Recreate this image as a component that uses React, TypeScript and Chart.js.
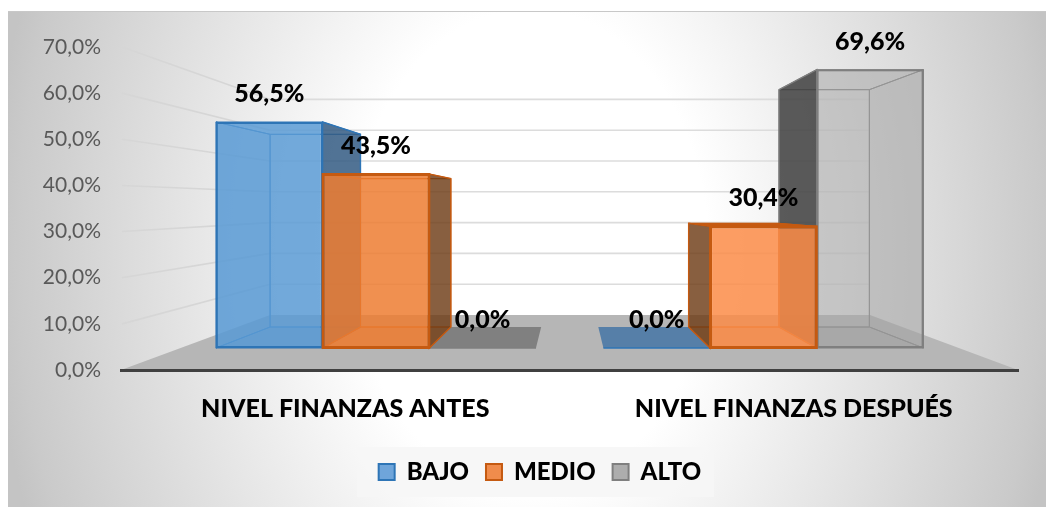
import React, { useEffect, useRef } from "react";
import { Chart, registerables } from "chart.js";

Chart.register(...registerables);

const categories = ["NIVEL FINANZAS ANTES", "NIVEL FINANZAS DESPUÉS"];
const bajoValues = [56.5, 0.0];
const medioValues = [43.5, 30.4];
const altoValues = [0.0, 69.6];
const yTicks = [0, 10, 20, 30, 40, 50, 60, 70];

const FONT = "Lato, Carlito, Calibri, sans-serif";

const fmt = (v: number) => v.toFixed(1).replace(".", ",") + "%";

// depth projection of the front plane onto the back plane
const VANISH_X = 570;
const DEPTH_X = 0.847;
const DEPTH_Y = 0.8525;
const BACK_BASE_SHIFT = 21;
// back wall
const WALL_BASE = 315;
const WALL_STEP = 3.08;
const WALL_LEFT = 270;
const WALL_RIGHT = 870;

const faces: Record<number, any> = {
  0: { line: "#2e75b6", outer: "rgba(52,92,132,0.86)", inner: "rgba(46,117,182,0.10)", flat: "#567fa8", floor: "rgba(46,117,182,0.18)" },
  1: { line: "#c55a11", outer: "rgba(110,60,22,0.82)", inner: "rgba(197,90,17,0.08)", flat: "#c55a11", floor: "rgba(197,90,17,0.18)" },
  2: { line: "#7f7f7f", outer: "rgba(62,62,62,0.85)", inner: "rgba(120,120,120,0.06)", flat: "#808080", floor: "rgba(90,90,90,0.12)" },
};
const faceOrder = [0, 2, 1];
const legendFill = ["#6fa5da", "#f08c4c", "#adadad"];

const poly = (ctx: CanvasRenderingContext2D, pts: number[][], fill?: string, stroke?: string, lw = 1) => {
  ctx.beginPath();
  pts.forEach((p, i) => (i ? ctx.lineTo(p[0], p[1]) : ctx.moveTo(p[0], p[1])));
  ctx.closePath();
  if (fill) {
    ctx.fillStyle = fill;
    ctx.fill();
  }
  if (stroke) {
    ctx.strokeStyle = stroke;
    ctx.lineWidth = lw;
    ctx.stroke();
  }
};

const scene = {
  id: "scene",
  afterLayout(chart: any) {
    chart.legend.left += 11;
    chart.legend.right += 11;
  },
  beforeDraw(chart: any) {
    const { ctx, width, height, chartArea, scales } = chart;
    ctx.save();
    const sy = 1.35;
    ctx.save();
    ctx.translate(530, 250);
    ctx.scale(1, sy);
    const g = ctx.createRadialGradient(0, 0, 0, 0, 0, 540);
    g.addColorStop(0, "#ffffff");
    g.addColorStop(0.33, "#ffffff");
    g.addColorStop(0.95, "#cacaca");
    g.addColorStop(1, "#c4c4c4");
    ctx.fillStyle = g;
    ctx.fillRect(8 - 530, (11 - 250) / sy, width - 8, (height - 11) / sy);
    ctx.restore();
    ctx.fillStyle = "#c8c8c8";
    ctx.fillRect(8, 11, width - 8, 1);
    ctx.fillStyle = "rgba(246,246,246,0.9)";
    ctx.fillRect(357, 447, 357, 50);

    const L = WALL_LEFT;
    const R = WALL_RIGHT;
    poly(ctx, [[chartArea.left, chartArea.bottom], [chartArea.right, chartArea.bottom], [R, WALL_BASE], [L, WALL_BASE]], "#b6b6b6");
    yTicks.forEach((t) => {
      if (t === 0) return;
      const gy = WALL_BASE - t * WALL_STEP;
      ctx.strokeStyle = "#dcdcdc";
      ctx.lineWidth = 1.6;
      ctx.beginPath();
      ctx.moveTo(L, gy);
      ctx.lineTo(R, gy);
      ctx.stroke();
      ctx.strokeStyle = "#d6d6d6";
      ctx.beginPath();
      ctx.moveTo(chartArea.left + 1, scales.y.getPixelForValue(t));
      ctx.lineTo(L, gy);
      ctx.stroke();
    });
    ctx.restore();
  },
  beforeDatasetsDraw(chart: any) {
    const { ctx, scales } = chart;
    ctx.save();
    const zero = scales.yb.getPixelForValue(0);
    const back = (x: number, y: number) => [
      VANISH_X + (x - VANISH_X) * DEPTH_X,
      zero - BACK_BASE_SHIFT - (zero - y) * DEPTH_Y,
    ];
    faceOrder.forEach((index) => {
      const f = faces[index];
      chart.getDatasetMeta(index).data.forEach((bar: any) => {
        const { x, y, width } = bar.getProps(["x", "y", "width"], true);
        const l = x - width / 2;
        const r = x + width / 2;
        const fl = [l, zero];
        const fr = [r, zero];
        const bl = back(l, zero);
        const br = back(r, zero);
        if (Math.abs(y - zero) < 0.5) {
          poly(ctx, [fl, fr, br, bl], f.flat);
          ctx.strokeStyle = f.line;
          ctx.lineWidth = 1.6;
          ctx.beginPath();
          ctx.moveTo(l, zero);
          ctx.lineTo(r, zero);
          ctx.stroke();
          return;
        }
        const tl = [l, y];
        const tr = [r, y];
        const btl = back(l, y);
        const btr = back(r, y);
        const leftSide = [fl, tl, btl, bl];
        const rightSide = [fr, tr, btr, br];
        const isLeftOfCentre = x < VANISH_X;
        poly(ctx, [bl, br, btr, btl], undefined, f.line, 1);
        poly(ctx, [fl, fr, br, bl], f.floor, f.line, 1);
        poly(ctx, isLeftOfCentre ? leftSide : rightSide, f.inner, f.line, 1);
        poly(ctx, [tl, tr, btr, btl], btl[1] < y ? f.flat : undefined, f.line, 1);
        poly(ctx, isLeftOfCentre ? rightSide : leftSide, f.outer, f.line, 1.4);
      });
    });
    ctx.restore();
  },
  afterDatasetsDraw(chart: any) {
    const { ctx } = chart;
    ctx.save();
    // shared edges belong to the middle series
    ctx.strokeStyle = faces[1].line;
    ctx.lineWidth = 2;
    chart.getDatasetMeta(1).data.forEach((bar: any) => {
      const { x, y, base, width } = bar.getProps(["x", "y", "base", "width"], true);
      ctx.strokeRect(x - width / 2, y, width, base - y);
    });
    ctx.font = `900 25px ${FONT}`;
    ctx.fillStyle = "#000000";
    ctx.textAlign = "center";
    ctx.textBaseline = "middle";
    chart.data.datasets.forEach((ds: any, di: number) => {
      chart.getDatasetMeta(di).data.forEach((bar: any, i: number) => {
        const { x, y } = bar.getProps(["x", "y"], true);
        ctx.fillText(fmt(ds.data[i].y), x, y - 28);
      });
    });
    ctx.restore();
  },
};

const toPoints = (vals: number[]) => vals.map((y, x) => ({ x, y }));

export default function App() {
  const ref = useRef<HTMLCanvasElement>(null);
  useEffect(() => {
    const common = { xAxisID: "xb", yAxisID: "yb", borderWidth: 2, borderSkipped: false, categoryPercentage: 0.826, barPercentage: 1 };
    const chart = new Chart(ref.current!, {
      type: "bar",
      data: {
        labels: categories,
        datasets: [
          { label: "BAJO", data: toPoints(bajoValues) as any, backgroundColor: "rgba(91,155,213,0.85)", borderColor: "#2e75b6", ...common },
          { label: "MEDIO", data: toPoints(medioValues) as any, backgroundColor: ["rgba(237,125,49,0.85)", "rgba(252,140,72,0.85)"], borderColor: "#c55a11", ...common },
          { label: "ALTO", data: toPoints(altoValues) as any, backgroundColor: "rgba(165,165,165,0.55)", borderColor: "#7f7f7f", ...common },
        ],
      },
      options: {
        responsive: false,
        animation: false,
        layout: { padding: { left: 40, right: 28, top: 47, bottom: 13 } },
        scales: {
          x: {
            type: "category",
            position: "bottom",
            offset: true,
            grid: { display: false, drawTicks: false },
            border: { display: true, color: "#404040", width: 3 },
            ticks: { color: "#000000", font: { family: FONT, size: 25, weight: "900" }, padding: 24, maxRotation: 0, autoSkip: false },
            afterFit: (s: any) => { s.height = 73; },
          },
          y: {
            type: "linear",
            position: "left",
            min: 0,
            max: 70,
            grid: { display: false, drawTicks: false },
            border: { display: false },
            ticks: { stepSize: 10, color: "#595959", font: { family: FONT, size: 21 }, padding: 20, callback: (v: any) => fmt(Number(v)) },
            afterFit: (s: any) => { s.width = 81; },
          },
          xb: {
            type: "linear",
            display: false,
            position: "top",
            offset: false,
            min: -0.658,
            max: 1.657,
            grid: { display: false },
            afterBuildTicks: (s: any) => { s.ticks = [{ value: 0 }, { value: 1 }]; },
          },
          yb: { type: "linear", display: false, position: "right", min: -5.5, max: 75.25, grid: { display: false } },
        },
        plugins: {
          tooltip: { enabled: false },
          legend: {
            position: "bottom",
            labels: {
              color: "#000000",
              boxWidth: 16,
              boxHeight: 16,
              padding: 17,
              font: { family: FONT, size: 24, weight: "900" },
              generateLabels: (c: any) =>
                Chart.defaults.plugins.legend.labels.generateLabels(c).map((item: any, i: number) => ({
                  ...item,
                  fillStyle: legendFill[i],
                })),
            },
          },
        },
      },
      plugins: [scene],
    } as any);
    return () => chart.destroy();
  }, []);
  return <canvas ref={ref} width={1046} height={507} style={{ position: "fixed", left: 0, top: 0, width: 1046, height: 507 }} />;
}
